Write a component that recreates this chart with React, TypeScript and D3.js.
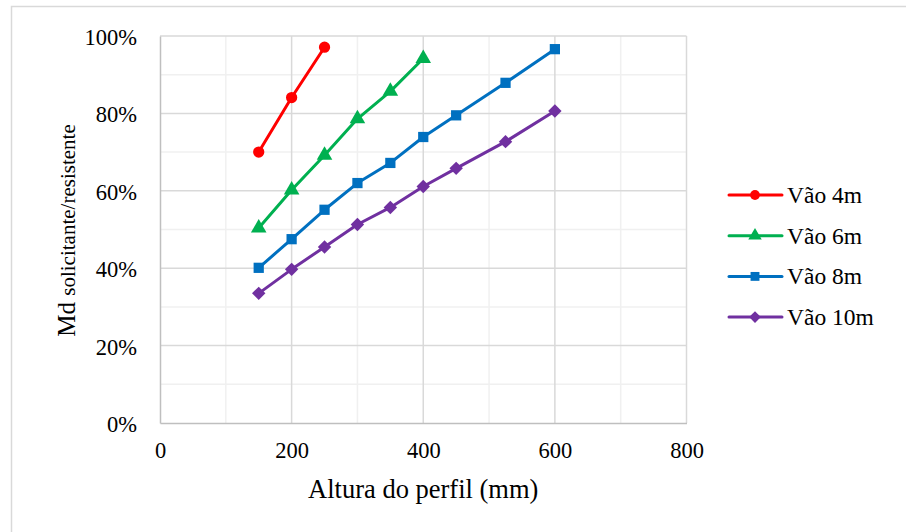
import { useEffect, useRef } from 'react'
import * as d3 from 'd3'

// data
const alturas4 = [150, 200, 250]
const vao4 = [0.70, 0.841, 0.971]
const alturas6 = [150, 200, 250, 300, 350, 400]
const vao6 = [0.504, 0.602, 0.692, 0.786, 0.857, 0.942]
const alturas8 = [150, 200, 250, 300, 350, 400, 450, 525, 600]
const vao8 = [0.401, 0.475, 0.551, 0.62, 0.672, 0.739, 0.795, 0.879, 0.966]
const alturas10 = [150, 200, 250, 300, 350, 400, 450, 525, 600]
const vao10 = [0.335, 0.397, 0.455, 0.513, 0.557, 0.611, 0.658, 0.727, 0.806]

const seriesNames = ['Vão 4m', 'Vão 6m', 'Vão 8m', 'Vão 10m']
const xTicks = [0, 200, 400, 600, 800]
const yTicks = [0, 0.2, 0.4, 0.6, 0.8, 1]

const Chart = ({ width = 906, height = 532 }) => {
  const svgRef = useRef(null)

  useEffect(() => {
    const font = 'Liberation Serif, Times New Roman, serif'
    const colors = ['#FF0000', '#00B050', '#0070C0', '#7030A0']
    const symbols = [d3.symbolCircle, d3.symbolTriangle, d3.symbolSquare, d3.symbolDiamond2]
    const symSizes = [100, 105, 105, 115]

    const series = [
      { name: seriesNames[0], pts: alturas4.map((x, i) => [x, vao4[i]]) },
      { name: seriesNames[1], pts: alturas6.map((x, i) => [x, vao6[i]]) },
      { name: seriesNames[2], pts: alturas8.map((x, i) => [x, vao8[i]]) },
      { name: seriesNames[3], pts: alturas10.map((x, i) => [x, vao10[i]]) },
    ]

    const plotLeft = 160
    const plotRight = 686.5
    const plotTop = 36
    const plotBottom = 423

    const xScale = d3.scaleLinear([0, 800], [plotLeft, plotRight])
    const yScale = d3.scaleLinear([0, 1], [plotBottom, plotTop])

    const svgEl = d3.select(svgRef.current)
    svgEl.selectAll('*').remove()
    svgEl.attr('font-family', font)

    // outer chart frame
    svgEl
      .append('rect')
      .attr('x', 11.5)
      .attr('y', 6.5)
      .attr('width', 960)
      .attr('height', 600)
      .attr('fill', '#fff')
      .attr('stroke', '#D9D9D9')
      .attr('stroke-width', 1.5)

    // minor grid
    const g = svgEl.append('g')
    g.selectAll('.minor-x')
      .data(d3.range(100, 800, 200))
      .join('line')
      .attr('x1', (d) => xScale(d))
      .attr('x2', (d) => xScale(d))
      .attr('y1', plotTop)
      .attr('y2', plotBottom)
      .attr('stroke', '#F0F0F0')
      .attr('stroke-width', 1.5)
    g.selectAll('.minor-y')
      .data(d3.range(0.1, 1, 0.2))
      .join('line')
      .attr('x1', plotLeft)
      .attr('x2', plotRight)
      .attr('y1', (d) => yScale(d))
      .attr('y2', (d) => yScale(d))
      .attr('stroke', '#F0F0F0')
      .attr('stroke-width', 1.5)

    // major grid
    g.append('g')
      .selectAll('line')
      .data(xTicks.slice(1))
      .join('line')
      .attr('x1', (d) => xScale(d))
      .attr('x2', (d) => xScale(d))
      .attr('y1', plotTop)
      .attr('y2', plotBottom)
      .attr('stroke', '#D9D9D9')
      .attr('stroke-width', 1.5)
    g.append('g')
      .selectAll('line')
      .data(yTicks.slice(1))
      .join('line')
      .attr('x1', plotLeft)
      .attr('x2', plotRight)
      .attr('y1', (d) => yScale(d))
      .attr('y2', (d) => yScale(d))
      .attr('stroke', '#D9D9D9')
      .attr('stroke-width', 1.5)

    // axes
    const xAxis = d3.axisBottom(xScale).tickValues(xTicks).tickSize(0).tickPadding(19)
    const yAxis = d3
      .axisLeft(yScale)
      .tickValues(yTicks)
      .tickFormat(d3.format('.0%'))
      .tickSize(0)
      .tickPadding(23)

    svgEl
      .append('g')
      .attr('transform', `translate(0,${plotBottom})`)
      .call(xAxis)
      .attr('font-family', font)
      .call((a) => a.select('.domain').attr('stroke', '#BFBFBF').attr('stroke-width', 1.5))
      .call((a) =>
        a
          .selectAll('.tick text')
          .attr('fill', '#000')
          .style('font-family', font)
          .style('font-size', '22.5px')
      )
    svgEl
      .append('g')
      .attr('transform', `translate(${plotLeft},0)`)
      .call(yAxis)
      .attr('font-family', font)
      .call((a) => a.select('.domain').attr('stroke', '#BFBFBF').attr('stroke-width', 1.5))
      .call((a) =>
        a
          .selectAll('.tick text')
          .attr('fill', '#000')
          .attr('dy', '0.38em')
          .style('font-family', font)
          .style('font-size', '22.5px')
      )

    // axis titles
    svgEl
      .append('text')
      .attr('x', (plotLeft + plotRight) / 2)
      .attr('y', 498)
      .attr('text-anchor', 'middle')
      .style('font-family', font)
      .style('font-size', '26.5px')
      .text('Altura do perfil (mm)')
    const yTitle = svgEl
      .append('text')
      .attr('transform', `translate(75,${(plotTop + plotBottom) / 2 + 1}) rotate(-90)`)
      .attr('text-anchor', 'middle')
      .style('font-family', font)
    yTitle.append('tspan').style('font-size', '25px').text('Md ')
    yTitle.append('tspan').style('font-size', '21px').text('solicitante/resistente')

    // lines + markers
    const line = d3
      .line()
      .x((d) => xScale(d[0]))
      .y((d) => yScale(d[1]))

    series.forEach((s, k) => {
      svgEl
        .append('path')
        .datum(s.pts)
        .attr('d', line)
        .attr('fill', 'none')
        .attr('stroke', colors[k])
        .attr('stroke-width', 3)
        .attr('stroke-linejoin', 'round')
      svgEl
        .append('g')
        .selectAll('path')
        .data(s.pts)
        .join('path')
        .attr('transform', (d) => `translate(${xScale(d[0])},${yScale(d[1])})`)
        .attr('d', d3.symbol(symbols[k], symSizes[k]))
        .attr('fill', colors[k])
    })

    // legend
    const legend = svgEl.append('g')
    series.forEach((s, k) => {
      const ly = 195 + k * 40.7
      legend
        .append('line')
        .attr('x1', 729)
        .attr('x2', 782)
        .attr('y1', ly)
        .attr('y2', ly)
        .attr('stroke', colors[k])
        .attr('stroke-width', 3)
        .attr('stroke-linecap', 'round')
      legend
        .append('path')
        .attr('transform', `translate(755,${ly})`)
        .attr('d', d3.symbol(symbols[k], symSizes[k] * 0.75)())
        .attr('fill', colors[k])
      legend
        .append('text')
        .attr('x', 787)
        .attr('y', ly + 8)
        .style('font-family', font)
        .style('font-size', '23.5px')
        .text(s.name)
    })
  }, [width, height])

  return (
    <svg
      ref={svgRef}
      width={width}
      height={height}
      style={{ position: 'absolute', left: 0, top: 0, background: '#fff' }}
    />
  )
}

export default function App() {
  return <Chart width={906} height={532} />
}
